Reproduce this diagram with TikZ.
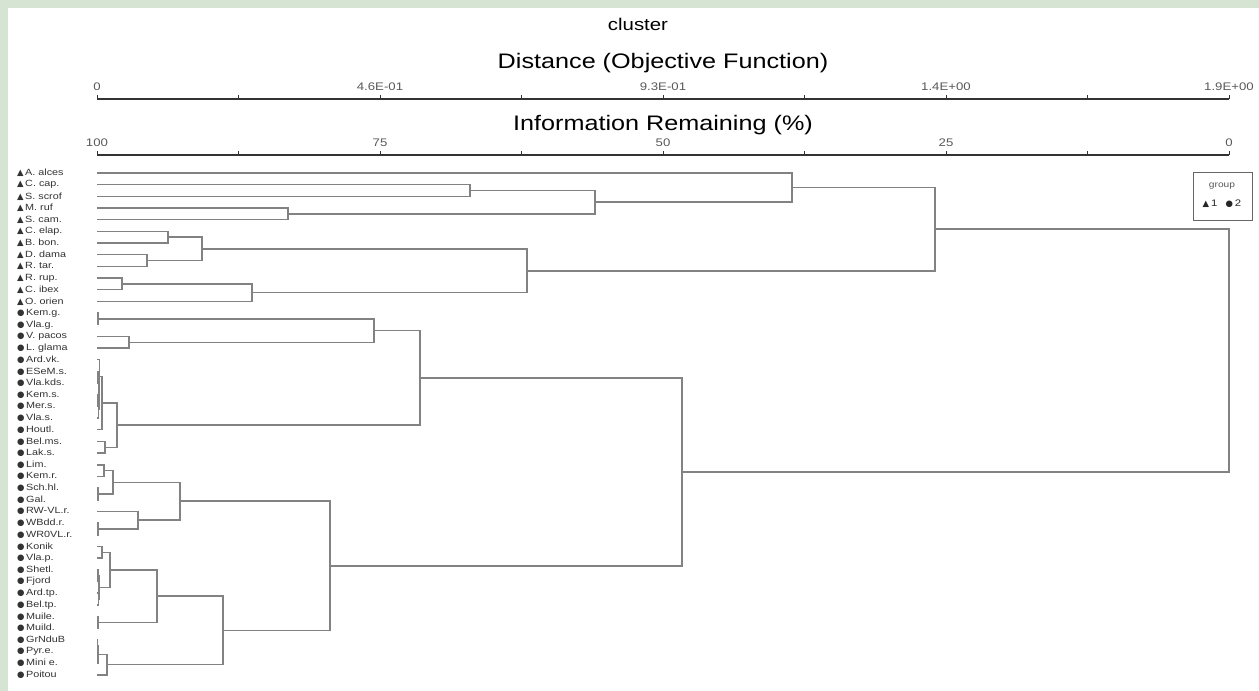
\documentclass[tikz,border=0pt]{standalone}
\usepackage{fontspec}
\setmainfont[FakeStretch=1.2]{Liberation Sans}
\newfontfamily\symfont{DejaVu Sans}
\usetikzlibrary{calc}
\definecolor{panelgreen}{RGB}{214,228,212}
\definecolor{branchgray}{RGB}{130,130,130}

\newcommand{\tri}{{\symfont\fontsize{8.5}{8.5}\selectfont ▲}}
\newcommand{\dotm}{{\symfont\fontsize{8.5}{8.5}\selectfont ●}}
% leaf: name, y, marker, label
\newcommand{\leaf}[4]{%
  \node[leaflabel] (#1-lab) at (17,#2) {#3\hspace{1.5pt}#4};
  \coordinate (#1) at (97,#2);}
% merge: name, distance, first child, second child
\newcommand{\merge}[4]{%
  \coordinate (#1-mid) at ($(#3)!0.5!(#4)$);
  \coordinate (#1) at (#2,0 |- #1-mid);
  \draw[branch] (#3) -| (#1) |- (#4);}

\begin{document}
\begin{tikzpicture}[
    x=1pt, y=-1pt,
    branch/.style={draw=branchgray, line width=1.5pt},
    axisline/.style={draw=black!80, line width=1.6pt},
    leaflabel/.style={anchor=west, inner sep=0pt, text=black!80, font=\fontsize{9}{9}\selectfont},
    ticklabel/.style={inner sep=0pt, text=black!65, font=\fontsize{11}{12}\selectfont},
    axistitle/.style={inner sep=0pt, font=\fontsize{21}{23}\selectfont}
]
\useasboundingbox (0,0) rectangle (1259,691);
\fill[panelgreen] (0,0) rectangle (1259,691);
\fill[white] (8,8) rectangle (1259,691);

% Titles
\node[axistitle, font=\fontsize{17}{19}\selectfont] (title) at (638,24) {cluster};
\node[axistitle] (disttitle) at (663,63) {Distance (Objective Function)};
\node[axistitle] (infotitle) at (663,125) {Information Remaining (\%)};

% Distance axis
\draw[axisline] (97,99) -- (1229,99);
\foreach \x in {97,238.5,380,521.5,663,804.5,946,1087.5,1229}
    \draw[axisline, line width=1pt] (\x,99) -- (\x,95);
\node[ticklabel] (d0) at (97,87) {0};
\node[ticklabel] (d1) at (380,87) {4.6E-01};
\node[ticklabel] (d2) at (663,87) {9.3E-01};
\node[ticklabel] (d3) at (946,87) {1.4E+00};
\node[ticklabel] (d4) at (1229,87) {1.9E+00};

% Information axis
\draw[axisline] (97,155) -- (1229,155);
\foreach \x in {97,238.5,380,521.5,663,804.5,946,1087.5,1229}
    \draw[axisline, line width=1pt] (\x,155) -- (\x,151);
\node[ticklabel] (i0) at (97,143) {100};
\node[ticklabel] (i1) at (380,143) {75};
\node[ticklabel] (i2) at (663,143) {50};
\node[ticklabel] (i3) at (946,143) {25};
\node[ticklabel] (i4) at (1229,143) {0};

% Leaves - group 1
\leaf{alces}{173.0}{\tri}{A. alces}
\leaf{cap}{184.7}{\tri}{C. cap.}
\leaf{scrof}{196.3}{\tri}{S. scrof}
\leaf{ruf}{208.0}{\tri}{M. ruf}
\leaf{cam}{219.7}{\tri}{S. cam.}
\leaf{elap}{231.4}{\tri}{C. elap.}
\leaf{bon}{243.0}{\tri}{B. bon.}
\leaf{dama}{254.7}{\tri}{D. dama}
\leaf{tar}{266.4}{\tri}{R. tar.}
\leaf{rup}{278.0}{\tri}{R. rup.}
\leaf{ibex}{289.7}{\tri}{C. ibex}
\leaf{orien}{301.4}{\tri}{O. orien}
% Leaves - group 2
\leaf{kemg}{313.0}{\dotm}{Kem.g.}
\leaf{vlag}{324.7}{\dotm}{Vla.g.}
\leaf{pacos}{336.4}{\dotm}{V. pacos}
\leaf{glama}{348.1}{\dotm}{L. glama}
\leaf{ardvk}{359.7}{\dotm}{Ard.vk.}
\leaf{esem}{371.4}{\dotm}{ESeM.s.}
\leaf{vlakds}{383.1}{\dotm}{Vla.kds.}
\leaf{kems}{394.7}{\dotm}{Kem.s.}
\leaf{mers}{406.4}{\dotm}{Mer.s.}
\leaf{vlas}{418.1}{\dotm}{Vla.s.}
\leaf{houtl}{429.7}{\dotm}{Houtl.}
\leaf{belms}{441.4}{\dotm}{Bel.ms.}
\leaf{laks}{453.1}{\dotm}{Lak.s.}
\leaf{lim}{464.8}{\dotm}{Lim.}
\leaf{kemr}{476.4}{\dotm}{Kem.r.}
\leaf{schhl}{488.1}{\dotm}{Sch.hl.}
\leaf{gal}{499.8}{\dotm}{Gal.}
\leaf{rwvl}{511.4}{\dotm}{RW-VL.r.}
\leaf{wbdd}{523.1}{\dotm}{WBdd.r.}
\leaf{wrovl}{534.8}{\dotm}{WR0VL.r.}
\leaf{konik}{546.4}{\dotm}{Konik}
\leaf{vlap}{558.1}{\dotm}{Vla.p.}
\leaf{shetl}{569.8}{\dotm}{Shetl.}
\leaf{fjord}{581.5}{\dotm}{Fjord}
\leaf{ardtp}{593.1}{\dotm}{Ard.tp.}
\leaf{beltp}{604.8}{\dotm}{Bel.tp.}
\leaf{muile}{616.5}{\dotm}{Muile.}
\leaf{muild}{628.1}{\dotm}{Muild.}
\leaf{grndub}{639.8}{\dotm}{GrNduB}
\leaf{pyre}{651.5}{\dotm}{Pyr.e.}
\leaf{mini}{663.1}{\dotm}{Mini e.}
\leaf{poitou}{674.8}{\dotm}{Poitou}

% Group 1 merges
\merge{mcs}{470}{cap}{scrof}
\merge{mrc}{288}{ruf}{cam}
\merge{m3}{595}{mcs}{mrc}
\merge{m4}{792}{alces}{m3}
\merge{m5}{168}{elap}{bon}
\merge{m6}{147}{dama}{tar}
\merge{m7}{202}{m5}{m6}
\merge{m8}{122}{rup}{ibex}
\merge{m9}{252}{m8}{orien}
\merge{m10}{527}{m7}{m9}
\merge{m11}{935}{m4}{m10}

% Group 2 merges
\merge{c1}{98}{kemg}{vlag}
\merge{c2}{129}{pacos}{glama}
\merge{c3}{374}{c1}{c2}
\merge{c4}{98}{esem}{vlakds}
\merge{c5}{98}{kems}{mers}
\merge{c6}{98.5}{c5}{vlas}
\merge{c7}{99}{c4}{c6}
\merge{c8}{99.5}{ardvk}{c7}
\merge{c9}{102}{c8}{houtl}
\merge{c10}{105}{belms}{laks}
\merge{c11}{117}{c9}{c10}
\merge{c12}{420}{c3}{c11}
\merge{c13}{104}{lim}{kemr}
\merge{c14}{98}{schhl}{gal}
\merge{c15}{113}{c13}{c14}
\merge{c16}{98}{wbdd}{wrovl}
\merge{c17}{138}{rwvl}{c16}
\merge{c18}{180}{c15}{c17}
\merge{c19}{102}{konik}{vlap}
\merge{c20}{98}{shetl}{fjord}
\merge{c21}{98.5}{ardtp}{beltp}
\merge{c22}{99}{c20}{c21}
\merge{c23}{110}{c19}{c22}
\merge{c24}{98}{muile}{muild}
\merge{c25}{157}{c23}{c24}
\merge{c26}{97.5}{grndub}{pyre}
\merge{c27}{98}{c26}{mini}
\merge{c28}{107}{c27}{poitou}
\merge{c29}{223}{c25}{c28}
\merge{c30}{330}{c18}{c29}
\merge{c31}{682}{c12}{c30}

% Root
\merge{root}{1229}{m11}{c31}

% Legend
\node[draw=black!60, line width=1pt, minimum width=59pt, minimum height=48pt, inner sep=0pt] (legend) at (1222.5,196) {};
\node[ticklabel, font=\fontsize{8.5}{9}\selectfont] (legtitle) at (1222,186) {group};
\node[ticklabel, text=black!85, font=\fontsize{9.5}{10}\selectfont] (legkeys) at (1222,204) {\tri\hspace{2pt}1\hspace{8pt}\dotm\hspace{2pt}2};
\end{tikzpicture}
\end{document}
